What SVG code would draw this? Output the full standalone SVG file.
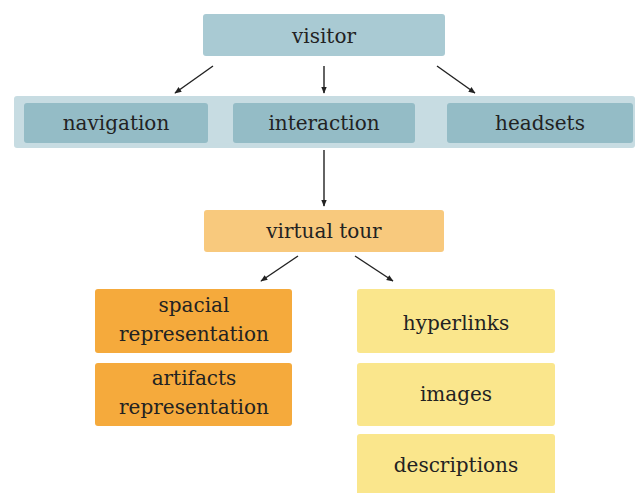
<svg xmlns="http://www.w3.org/2000/svg" width="635" height="493" viewBox="0 0 635 493">
<style>
text{font-family:"DejaVu Serif","Liberation Serif",serif;font-size:20px;fill:#222;text-anchor:middle}
.blue{fill:#a9cad3}
.blue2{fill:#94bcc6}
.lo{fill:#f8c97d}
.or{fill:#f5aa3c}
.ye{fill:#fae68c}
.c line{stroke:#222;stroke-width:1.4;marker-end:url(#ah)}
</style>
<defs>
<marker id="ah" viewBox="0 0 10 10" refX="9" refY="5" markerWidth="7" markerHeight="7" orient="auto" markerUnits="userSpaceOnUse"><path d="M0,1 L10,5 L0,9 z" fill="#222"/></marker>
</defs>
<rect x="14" y="96" width="621" height="52" rx="3" fill="#c7dce2"/>
<g id="visitor"><rect class="blue" x="203" y="14" width="242" height="42" rx="3"/><text x="324" y="43">visitor</text></g>
<g id="navigation"><rect class="blue2" x="24" y="103" width="184" height="40" rx="3"/><text x="116" y="130">navigation</text></g>
<g id="interaction"><rect class="blue2" x="233" y="103" width="182" height="40" rx="3"/><text x="324" y="130">interaction</text></g>
<g id="headsets"><rect class="blue2" x="447" y="103" width="186" height="40" rx="3"/><text x="540" y="130">headsets</text></g>
<g id="virtual-tour"><rect class="lo" x="204" y="210" width="240" height="42" rx="3"/><text x="324" y="238">virtual tour</text></g>
<g id="spacial"><rect class="or" x="95" y="289" width="197" height="64" rx="3"/><text x="194" y="312">spacial</text><text x="194" y="341">representation</text></g>
<g id="artifacts"><rect class="or" x="95" y="363" width="197" height="63" rx="3"/><text x="194" y="385">artifacts</text><text x="194" y="414">representation</text></g>
<g id="hyperlinks"><rect class="ye" x="357" y="289" width="198" height="64" rx="3"/><text x="456" y="330">hyperlinks</text></g>
<g id="images"><rect class="ye" x="357" y="363" width="198" height="63" rx="3"/><text x="456" y="401">images</text></g>
<g id="descriptions"><rect class="ye" x="357" y="434" width="198" height="62" rx="3"/><text x="456" y="472">descriptions</text></g>
<g class="c" id="connectors">
<line x1="213" y1="66" x2="175" y2="93"/>
<line x1="324" y1="66" x2="324" y2="93"/>
<line x1="437" y1="66" x2="475" y2="93"/>
<line x1="324" y1="150" x2="324" y2="206"/>
<line x1="298" y1="256" x2="261" y2="281"/>
<line x1="355" y1="256" x2="393" y2="281"/>
</g>
</svg>
